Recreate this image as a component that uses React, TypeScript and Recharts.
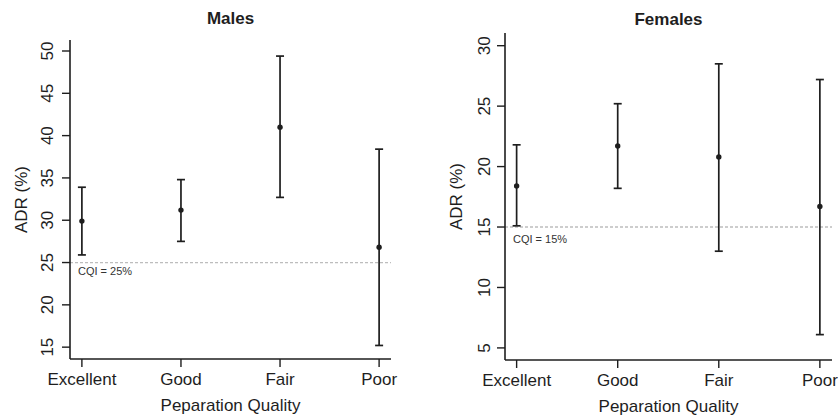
import React from "react";
import {
  ComposedChart,
  Scatter,
  ErrorBar,
  XAxis,
  YAxis,
  ReferenceLine,
  Label,
} from "recharts";

const categories = ["Excellent", "Good", "Fair", "Poor"];

const maleMean = [29.9, 31.2, 41.0, 26.8];
const maleLow = [25.9, 27.5, 32.7, 15.2];
const maleHigh = [33.9, 34.8, 49.4, 38.4];
const maleTicks = [15, 20, 25, 30, 35, 40, 45, 50];

const femaleMean = [18.4, 21.7, 20.8, 16.7];
const femaleLow = [15.1, 18.2, 13.0, 6.1];
const femaleHigh = [21.8, 25.2, 28.5, 27.2];
const femaleTicks = [5, 10, 15, 20, 25, 30];

const FONT = "'Liberation Sans', Arial, Helvetica, sans-serif";
const INK = "#1e1e1e";

function buildRows(mean: number[], low: number[], high: number[]) {
  return categories.map((name, i) => ({
    x: i + 1,
    name,
    y: mean[i],
    err: [mean[i] - low[i], high[i] - mean[i]],
  }));
}

// x arrives as axis - tickSize (tickMargin is 0)
const YTick = (props: any) => {
  const { x, y, payload, gap } = props;
  const ax = x + 8;
  return (
    <g>
      <line x1={x} y1={y} x2={ax} y2={y} stroke={INK} strokeWidth={1.4} />
      <text
        x={ax - gap}
        y={y}
        transform={`rotate(-90 ${ax - gap} ${y})`}
        textAnchor="middle"
        fontSize={17}
        fontFamily={FONT}
        fill={INK}
      >
        {payload.value}
      </text>
    </g>
  );
};

const XTick = (props: any) => {
  const { x, y, payload } = props;
  return (
    <g>
      <line x1={x} y1={y - 8} x2={x} y2={y} stroke={INK} strokeWidth={1.4} />
      <text
        x={x}
        y={y + 18}
        textAnchor="middle"
        fontSize={17}
        fontFamily={FONT}
        fill={INK}
      >
        {categories[payload.value - 1]}
      </text>
    </g>
  );
};

const Dot = (props: any) => {
  const { cx, cy } = props;
  return <circle cx={cx} cy={cy} r={2.7} fill={INK} />;
};

interface PanelProps {
  title: string;
  rows: ReturnType<typeof buildRows>;
  ticks: number[];
  domain: [number, number];
  xDomain: [number, number];
  cqi: number;
  cqiDy: number;
  top: number;
  bottom: number;
  right: number;
  tickGap: number;
  left: number;
  titleTop: number;
}

function Panel({
  title,
  rows,
  ticks,
  domain,
  xDomain,
  cqi,
  cqiDy,
  top,
  bottom,
  right,
  tickGap,
  left,
  titleTop,
}: PanelProps) {
  return (
    <div style={{ position: "absolute", left, top: 0, width: 420, height: 419 }}>
      <ComposedChart
        width={420}
        height={419}
        data={rows}
        margin={{ top, right, left: 0, bottom: 0 }}
      >
        <XAxis
          dataKey="x"
          type="number"
          domain={xDomain}
          ticks={[1, 2, 3, 4]}
          height={bottom}
          axisLine={{ stroke: INK, strokeWidth: 1.6 }}
          tickLine={false}
          tick={<XTick />}
          tickSize={8}
          tickMargin={0}
          interval={0}
        >
          <Label
            content={(p: any) => {
              const vb = p.viewBox;
              return (
                <text
                  x={vb.x + vb.width / 2}
                  y={vb.y + 52}
                  textAnchor="middle"
                  fontSize={17}
                  fontFamily={FONT}
                  fill={INK}
                >
                  Peparation Quality
                </text>
              );
            }}
          />
        </XAxis>
        <YAxis
          type="number"
          domain={domain}
          ticks={ticks}
          width={70}
          axisLine={{ stroke: INK, strokeWidth: 1.6 }}
          tickLine={false}
          tickSize={8}
          tickMargin={0}
          tick={<YTick gap={tickGap} />}
          allowDataOverflow
        >
          <Label
            content={(p: any) => {
              const vb = p.viewBox;
              const cx = 27;
              const cy = vb.y + vb.height / 2;
              return (
                <text
                  x={cx}
                  y={cy}
                  transform={`rotate(-90 ${cx} ${cy})`}
                  textAnchor="middle"
                  fontSize={17}
                  fontFamily={FONT}
                  fill={INK}
                >
                  ADR (%)
                </text>
              );
            }}
          />
        </YAxis>
        <ReferenceLine
          y={cqi}
          stroke="#bdbdbd"
          strokeWidth={1.3}
          strokeDasharray="3 2"
          label={(p: any) => {
            const vb = p.viewBox;
            return (
              <text
                x={vb.x + 8}
                y={vb.y + cqiDy}
                fontSize={11}
                fontFamily={FONT}
                fill="#333"
              >
                {`CQI = ${cqi}%`}
              </text>
            );
          }}
        />
        <Scatter dataKey="y" shape={<Dot />} isAnimationActive={false}>
          <ErrorBar
            dataKey="err"
            direction="y"
            width={4}
            stroke={INK}
            strokeWidth={1.7}
            isAnimationActive={false}
          />
        </Scatter>
      </ComposedChart>
      <div
        style={{
          position: "absolute",
          top: titleTop,
          left: 70,
          width: 420 - 70 - right,
          textAlign: "center",
          fontFamily: FONT,
          fontWeight: "bold",
          fontSize: 17,
          lineHeight: "20px",
          color: INK,
        }}
      >
        {title}
      </div>
    </div>
  );
}

export default function App() {
  return (
    <div
      style={{
        position: "absolute",
        left: 0,
        top: 0,
        width: 838,
        height: 419,
        overflow: "hidden",
        background: "#fff",
      }}
    >
      <Panel
        title="Males"
        rows={buildRows(maleMean, maleLow, maleHigh)}
        ticks={maleTicks}
        domain={[13.6, 51.3]}
        xDomain={[0.88, 4.12]}
        cqi={25}
        cqiDy={12}
        top={40}
        bottom={60}
        right={29}
        tickGap={17}
        left={0}
        titleTop={9}
      />
      <Panel
        title="Females"
        rows={buildRows(femaleMean, femaleLow, femaleHigh)}
        ticks={femaleTicks}
        domain={[4.0, 31.05]}
        xDomain={[0.885, 4.12]}
        cqi={15}
        cqiDy={16}
        top={33}
        bottom={59}
        right={23}
        tickGap={15}
        left={435}
        titleTop={10}
      />
    </div>
  );
}
